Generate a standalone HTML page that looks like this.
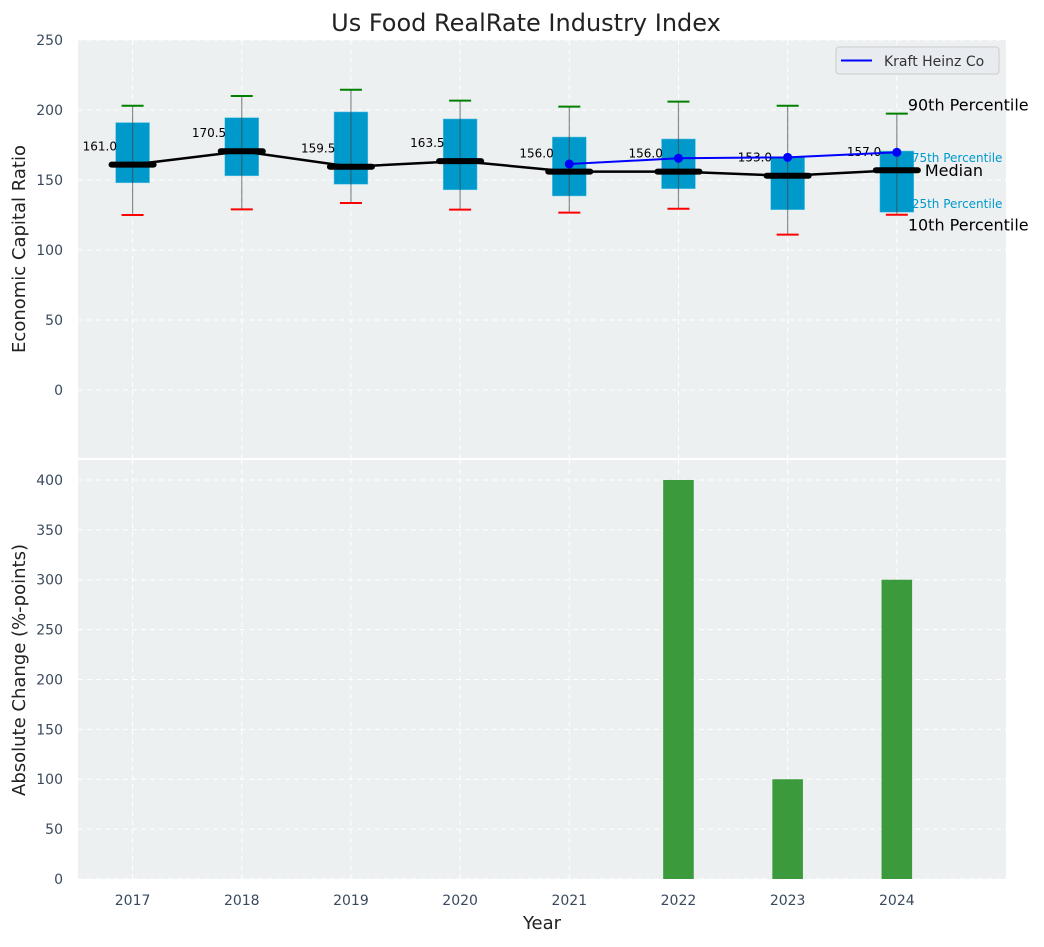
<!DOCTYPE html>
<html><head><meta charset="utf-8"><style>
body{margin:0;background:#fff;font-family:"Liberation Sans","DejaVu Sans",sans-serif}
svg text{font-family:"DejaVu Sans","Liberation Sans",sans-serif}
</style></head><body>
<svg id="c" width="1044" height="942" xmlns="http://www.w3.org/2000/svg"></svg>
<script>
const years=[2017,2018,2019,2020,2021,2022,2023,2024];
const p10=[125,129,133.6,128.8,126.7,129.5,111,125.2];
const p25=[148,153,147,143,138.6,143.8,128.8,127];
const medians=[161,170.5,159.5,163.5,156,156,153,157];
const p75=[191,194.5,198.6,193.6,180.7,179.3,166.2,170.7];
const p90=[203,210,214.5,206.7,202.4,206,203,197.4];
const kraftYears=[2021,2022,2023,2024];
const kraftValues=[161.4,165.5,166.2,169.8];
const changes=[0,0,0,0,0,400,100,300];
const topTicks=[0,50,100,150,200,250];
const botTicks=[0,50,100,150,200,250,300,350,400];

const svg=document.getElementById('c');const NS='http://www.w3.org/2000/svg';
function mk(t,a,p){const e=document.createElementNS(NS,t);for(const k in a)e.setAttribute(k,a[k]);(p||svg).appendChild(e);return e;}
const X0=78,X1=1006,xmin=2016.5,xmax=2025;
const x=v=>X0+(v-xmin)/(xmax-xmin)*(X1-X0);
const T0=40,T1=458,tmin=-48.57,tmax=250;
const yt=v=>T1-(v-tmin)/(tmax-tmin)*(T1-T0);
const B0=460,B1=879,bmin=0,bmax=420;
const yb=v=>B1-(v-bmin)/(bmax-bmin)*(B1-B0);
const pxPerYear=(X1-X0)/(xmax-xmin);

let e;
e=mk('rect',{x:X0,y:T0,width:X1-X0,height:T1-T0,fill:'#ecf0f1'});

e=mk('rect',{x:X0,y:B0,width:X1-X0,height:B1-B0,fill:'#ecf0f1'});


years.forEach(yv=>{
 e=mk('line',{x1:x(yv),x2:x(yv),y1:T0,y2:T1,stroke:'#fff','stroke-dasharray':'5,4','stroke-width':1});
 
 e=mk('line',{x1:x(yv),x2:x(yv),y1:B0,y2:B1,stroke:'#fff','stroke-dasharray':'5,4','stroke-width':1});
 
 e=mk('text',{x:x(yv),y:905,'text-anchor':'middle','font-size':14,fill:'#3a4a5e'});e.textContent=yv;
 
});
topTicks.forEach(t=>{
 e=mk('line',{x1:X0,x2:X1,y1:yt(t),y2:yt(t),stroke:'#fff','stroke-dasharray':'5,4'});
 
 e=mk('text',{x:63,y:yt(t)+5,'text-anchor':'end','font-size':14,fill:'#3a4a5e'});e.textContent=t;
 
});
botTicks.forEach(t=>{
 e=mk('line',{x1:X0,x2:X1,y1:yb(t),y2:yb(t),stroke:'#fff','stroke-dasharray':'5,4'});
 
 e=mk('text',{x:63,y:yb(t)+5,'text-anchor':'end','font-size':14,fill:'#3a4a5e'});e.textContent=t;
 
});

const bw=0.31*pxPerYear,cw=22,mw=0.44*pxPerYear;
years.forEach((yv,i)=>{
 const cx=x(yv);
 e=mk('rect',{x:cx-bw/2,y:yt(p75[i]),width:bw,height:yt(p25[i])-yt(p75[i]),fill:'#0099cc',stroke:'#5ec4e6','stroke-width':0.5});
 
 e=mk('line',{x1:cx,x2:cx,y1:yt(p90[i]),y2:yt(p10[i]),stroke:'#444','stroke-opacity':0.6,'stroke-width':1.2});
 
 e=mk('line',{x1:cx-cw/2,x2:cx+cw/2,y1:yt(p90[i]),y2:yt(p90[i]),stroke:'green','stroke-width':2});
 
 e=mk('line',{x1:cx-cw/2,x2:cx+cw/2,y1:yt(p10[i]),y2:yt(p10[i]),stroke:'red','stroke-width':2});
 
});
e=mk('polyline',{points:years.map((yv,i)=>x(yv)+','+yt(medians[i])).join(' '),fill:'none',stroke:'#000','stroke-width':2.5});

years.forEach((yv,i)=>{
 const cx=x(yv);
 e=mk('line',{x1:cx-mw/2+3,x2:cx+mw/2-3,y1:yt(medians[i]),y2:yt(medians[i]),stroke:'#000','stroke-width':6,'stroke-linecap':'round'});
 
 e=mk('text',{x:cx-0.3*pxPerYear,y:yt(medians[i]+13)+4,'text-anchor':'middle','font-size':12,fill:'#000'});e.textContent=medians[i].toFixed(1);
 
});
e=mk('polyline',{points:kraftYears.map((yv,i)=>x(yv)+','+yt(kraftValues[i])).join(' '),fill:'none',stroke:'blue','stroke-width':2});

kraftYears.forEach((yv,i)=>{
 e=mk('circle',{cx:x(yv),cy:yt(kraftValues[i]),r:4.5,fill:'blue'});
 
});
const last=years.length-1,lx=x(years[last]);
[['90th Percentile',p90[last],16,'#000',11,-3],['75th Percentile',p75[last],12,'#0099cc',15,11],['Median',medians[last],16,'#000',28,6],['25th Percentile',p25[last],12,'#0099cc',15,-4],['10th Percentile',p10[last],16,'#000',11,16]].forEach(a=>{
 e=mk('text',{x:lx+a[4],y:yt(a[1])+a[5],'font-size':a[2],fill:a[3]});e.textContent=a[0];
 
});
const lg=mk('g',{});
mk('rect',{x:836,y:47,width:163,height:27,rx:3,fill:'#e8ebf0',stroke:'#ccc'},lg);
mk('line',{x1:841,x2:872,y1:60.5,y2:60.5,stroke:'blue','stroke-width':2},lg);
e=mk('text',{x:884,y:66,'font-size':14,fill:'#333'},lg);e.textContent='Kraft Heinz Co';

const barW=0.28*pxPerYear;
years.forEach((yv,i)=>{
 if(changes[i]<=0)return;
 e=mk('rect',{x:x(yv)-barW/2,y:yb(changes[i]),width:barW,height:yb(0)-yb(changes[i]),fill:'#3a9a3c'});
 
});

e=mk('text',{x:526,y:31,'text-anchor':'middle','font-size':24,fill:'#222'});e.textContent='Us Food RealRate Industry Index';

e=mk('text',{x:542,y:929,'text-anchor':'middle','font-size':18,fill:'#222'});e.textContent='Year';

e=mk('text',{x:25,y:249,'text-anchor':'middle','font-size':18,fill:'#222',transform:'rotate(-90 25 249)'});e.textContent='Economic Capital Ratio';

e=mk('text',{x:25,y:670,'text-anchor':'middle','font-size':18,fill:'#222',transform:'rotate(-90 25 670)'});e.textContent='Absolute Change (%-points)';

</script>
</body></html>
